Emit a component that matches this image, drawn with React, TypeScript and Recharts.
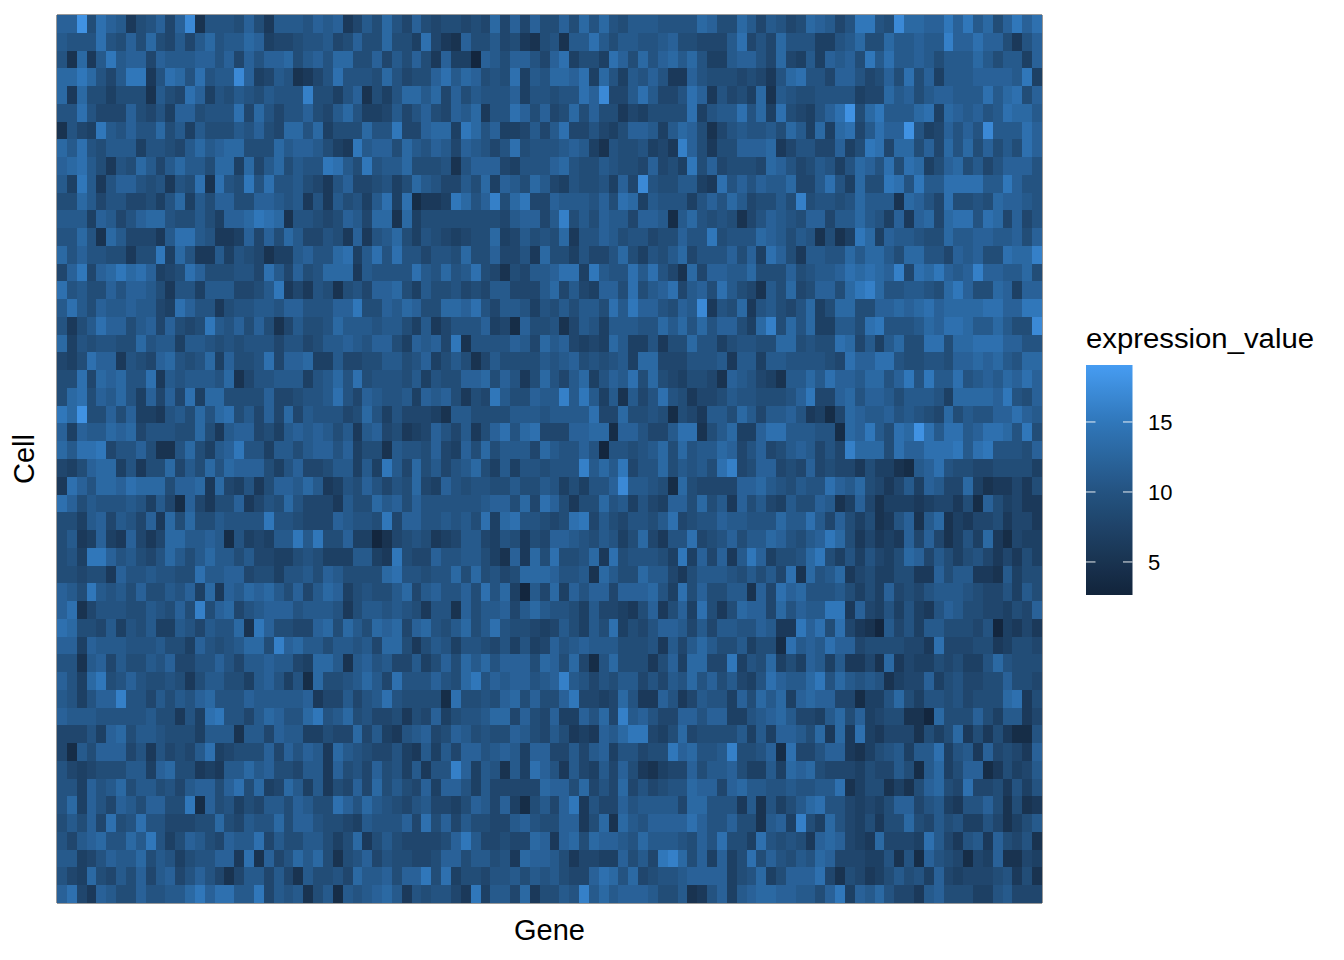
import React from 'react';
import { ScatterChart, Scatter, XAxis, YAxis, ReferenceArea } from 'recharts';

// expression values, top row first, one entry per gene
const row00 = [12,12,18,9,14,12,11,6,9,10,12,8,12,17,5,10,10,10,9,12,9,6,11,11,11, 10,12,11,12,6,8,11,9,13,10,8,12,9,8,9,9,8,9,8,13,8,12,8,12,9, 9,12,9,13,10,13,10,9,11,11,11,10,10,10,10,13,12,9,9,13,11,8,11,10,8, 9,13,12,11,8,10,15,15,10,9,17,13,13,12,12,15,12,15,11,13,9,12,15,12,14];
const row01 = [11,10,10,10,14,10,9,12,9,13,9,8,11,8,11,13,10,11,11,13,12,7,8,8,9, 10,10,11,8,9,12,9,9,13,9,9,7,14,8,6,5,12,9,9,11,8,9,6,5,9, 10,5,11,11,14,11,9,11,11,10,10,11,12,9,9,8,8,8,11,14,8,10,8,13,10, 10,10,7,7,10,11,13,9,9,13,11,11,12,11,11,16,12,12,14,12,12,9,6,10,12];
const row02 = [10,5,13,6,11,15,11,12,12,8,12,11,11,11,12,12,10,12,8,12,10,12,12,13,9, 11,12,10,13,13,9,9,12,8,11,9,12,9,6,12,7,7,3,12,11,9,12,12,10,8, 12,14,7,9,9,7,14,12,9,13,10,12,13,11,13,10,7,7,11,12,12,10,8,13,8, 7,11,7,12,11,12,9,15,11,14,11,11,12,11,9,11,11,11,13,11,9,11,11,7,12];
const row03 = [13,13,15,13,10,8,11,15,15,6,10,14,13,10,14,10,11,11,17,12,7,8,11,10,5, 6,8,10,14,10,10,10,9,13,10,8,9,9,12,14,11,13,12,9,10,9,14,7,11,10, 13,13,12,14,7,13,10,7,11,10,12,10,6,6,12,10,9,9,9,8,9,8,6,10,13, 14,10,10,8,12,12,10,8,9,12,9,14,9,12,7,11,11,11,12,12,12,12,11,15,7];
const row04 = [13,6,13,9,9,7,9,9,9,5,11,9,8,14,12,7,10,9,11,10,9,11,10,10,10, 16,9,9,7,10,12,5,9,7,10,13,13,11,13,8,12,9,11,10,10,10,12,7,10,10, 9,10,10,14,12,17,8,8,11,14,11,8,8,10,14,12,6,10,8,9,7,13,5,11,10, 9,9,10,10,10,10,7,8,8,13,11,12,9,11,12,12,11,11,11,14,11,13,14,9,12];
const row05 = [10,10,14,10,8,8,8,12,9,8,10,7,12,12,9,10,10,10,14,8,13,10,8,10,10, 12,9,8,11,13,10,7,7,8,11,8,10,12,9,8,12,11,13,6,10,10,14,12,9,12, 8,9,13,9,12,9,9,6,8,7,9,9,9,9,14,7,10,11,11,14,10,13,7,14,9, 8,7,10,12,14,18,9,13,15,11,11,11,13,14,7,13,12,11,12,10,11,14,13,13,11];
const row06 = [5,10,8,7,15,11,10,12,10,10,13,9,11,7,11,9,9,9,11,10,12,9,8,13,13, 10,13,7,9,9,9,13,10,10,15,8,8,12,13,13,7,15,13,10,12,7,7,8,11,8, 11,14,8,8,10,8,7,9,12,12,11,7,11,13,12,9,5,8,10,11,10,10,11,9,13, 11,7,13,7,13,14,8,11,14,12,12,18,10,7,8,12,10,12,10,17,11,11,11,14,12];
const row07 = [13,11,14,10,9,11,11,11,7,10,10,9,8,11,13,11,12,13,13,9,9,9,13,11,12, 12,11,9,7,6,15,11,12,12,9,13,11,10,12,11,8,12,11,10,8,10,14,9,10,10, 10,11,12,11,7,5,10,9,9,10,7,8,6,16,12,9,6,9,9,12,12,12,13,6,8, 10,10,8,8,12,7,9,15,14,8,13,13,9,12,8,13,10,13,9,12,9,11,9,14,12];
const row08 = [12,13,14,11,9,6,10,9,13,11,8,11,13,11,11,9,13,13,7,13,8,11,13,9,11, 10,10,15,14,11,9,15,10,11,11,13,9,9,9,10,5,10,12,12,12,8,7,10,10,10, 12,13,10,9,9,11,10,9,9,8,12,8,9,7,15,9,12,8,9,9,9,8,13,12,10, 8,9,11,10,7,10,13,12,10,14,9,14,13,7,9,12,13,9,11,8,10,12,12,12,10];
const row09 = [11,7,15,11,6,10,12,12,10,9,10,6,10,9,14,5,14,10,9,15,10,14,10,10,11, 9,8,6,10,12,8,8,9,10,7,9,13,11,10,8,8,11,9,13,7,12,11,9,13,11, 8,7,10,9,9,10,7,12,8,17,10,9,9,11,11,7,6,14,10,12,10,12,11,11,13, 8,8,11,14,10,7,13,9,9,15,14,10,15,11,11,14,14,14,14,11,11,15,12,10,10];
const row10 = [9,9,13,11,8,10,10,8,8,9,7,10,13,7,11,9,12,12,9,9,12,12,11,10,11, 6,10,6,11,9,10,7,11,14,7,14,4,6,6,7,15,13,10,12,16,9,13,15,8,8, 12,11,11,11,10,12,9,14,13,7,11,10,10,10,7,10,12,10,13,11,8,9,9,11,9, 16,9,10,10,9,10,13,11,11,11,5,13,12,10,8,14,9,9,10,9,13,12,12,11,10];
const row11 = [11,11,11,7,12,11,8,10,12,13,13,10,9,9,11,9,7,12,12,13,15,14,13,5,10, 10,9,8,9,12,11,8,13,13,5,13,7,9,9,9,9,9,9,9,9,8,11,12,12,8, 11,16,9,11,9,12,11,11,8,12,12,11,4,11,13,10,9,10,9,5,8,10,12,11,10, 9,12,12,8,11,11,13,11,10,7,12,6,12,13,8,13,14,14,10,14,13,8,12,8,10];
const row12 = [10,10,13,10,5,13,11,8,8,8,6,11,14,14,11,10,6,6,7,12,8,12,9,13,11, 8,8,10,9,6,12,6,10,11,13,9,7,10,9,8,7,8,9,9,13,7,8,11,9,10, 9,13,6,10,10,12,11,9,10,10,8,9,9,12,10,10,15,9,10,10,10,13,12,11,9, 11,10,5,9,5,7,15,13,7,12,11,11,10,9,9,13,11,11,12,12,11,11,12,9,12];
const row13 = [13,10,12,10,10,9,9,6,9,9,15,7,13,10,6,6,11,7,10,9,8,5,7,7,11, 12,10,10,13,14,7,11,14,10,14,10,10,8,10,10,9,13,9,9,12,8,8,10,6,13, 9,9,7,10,8,8,10,13,9,7,10,9,11,13,8,10,10,10,12,9,12,7,14,12,9, 6,11,11,10,10,13,11,13,13,11,9,13,13,10,10,8,12,11,12,9,9,14,13,13,16];
const row14 = [8,12,15,8,12,13,15,13,14,12,7,8,9,14,12,9,9,9,10,10,8,14,11,8,12, 9,10,13,13,13,6,11,10,10,10,10,14,11,10,13,10,11,14,9,8,5,9,8,11,11, 12,14,14,7,15,11,10,10,14,11,14,10,8,5,13,8,12,12,11,11,13,9,9,9,12, 9,10,11,11,12,14,13,14,13,12,16,8,14,13,15,12,11,12,16,12,12,11,11,13,9];
const row15 = [14,10,11,9,9,12,10,12,12,11,9,6,10,10,7,11,11,11,8,8,9,11,15,6,8, 6,10,9,5,9,10,8,12,12,13,9,7,11,9,9,10,8,9,8,11,11,8,8,8,11, 13,8,11,8,7,12,12,9,14,9,11,12,14,8,11,12,9,14,11,9,8,5,11,9,13, 8,9,12,12,9,13,15,16,13,10,10,11,11,10,9,13,15,12,9,9,13,12,7,12,12];
const row16 = [11,14,11,9,12,11,11,12,11,11,8,7,14,12,10,10,6,9,10,10,11,11,10,12,12, 10,10,10,12,12,15,9,9,12,11,13,12,9,9,13,13,12,14,10,8,11,11,10,7,10, 9,11,9,11,11,9,14,11,15,12,12,10,9,12,11,17,6,10,9,13,6,10,11,9,8, 10,13,7,9,13,13,9,9,12,12,13,12,13,14,12,13,13,13,13,14,14,12,12,15,15];
const row17 = [10,6,9,11,14,12,12,9,11,12,8,12,9,8,9,15,11,10,12,9,12,9,5,8,11, 9,9,10,13,11,11,11,10,11,11,9,7,11,6,8,10,10,10,12,7,8,4,12,9,9, 10,5,8,11,10,7,11,11,11,10,10,13,11,13,10,13,10,12,12,9,7,13,16,9,13, 10,13,7,7,11,11,9,14,15,10,10,10,11,13,12,14,14,13,11,11,13,11,9,9,17];
const row18 = [13,7,10,9,10,10,9,9,13,10,11,11,7,11,11,10,9,10,9,10,10,10,8,10,10, 8,9,11,11,12,11,10,12,12,9,7,12,11,12,8,15,5,10,10,10,10,12,11,8,13, 11,12,8,7,8,7,13,11,7,7,10,6,9,9,13,10,10,7,9,10,10,9,9,13,13, 9,10,9,9,14,13,8,11,7,11,13,9,9,14,14,9,13,13,14,14,14,12,12,10,10];
const row19 = [8,7,9,14,12,12,6,10,9,8,12,13,10,9,10,13,7,12,9,9,10,14,8,12,12, 13,7,7,11,8,8,9,9,11,11,9,10,12,7,9,11,9,5,8,11,9,9,9,9,11, 10,11,12,9,10,9,10,11,7,13,13,8,8,8,10,10,10,11,6,11,11,7,11,11,10, 10,10,10,9,8,14,12,12,14,14,10,9,9,10,10,9,12,12,13,12,13,11,10,13,13];
const row20 = [9,9,14,8,13,12,13,10,10,14,6,11,10,11,11,11,10,13,5,8,10,10,11,11,11, 7,10,11,13,10,14,9,10,10,10,9,11,7,10,9,9,12,12,13,9,12,10,6,9,13, 10,8,11,13,7,10,12,11,14,9,13,9,8,7,9,9,8,5,12,11,10,8,7,5,11, 11,13,11,14,12,12,11,13,13,10,12,15,10,15,11,11,14,10,11,12,11,13,12,14,12];
const row21 = [9,13,14,9,12,11,13,10,7,12,8,12,8,14,7,13,13,9,9,9,9,12,8,8,9, 10,10,11,14,10,8,12,11,10,10,11,7,12,11,12,9,6,9,8,15,11,9,9,12,11, 11,16,11,15,11,7,11,5,11,8,10,14,10,9,6,8,8,9,11,10,10,9,9,9,10, 12,15,8,8,12,13,10,12,12,11,9,11,11,11,10,7,13,13,13,13,12,15,10,9,12];
const row22 = [15,13,18,9,9,12,9,12,7,7,6,10,11,9,13,10,13,14,9,11,8,12,8,13,8, 11,10,10,10,8,9,13,10,7,10,8,8,8,7,5,11,11,9,9,9,9,11,11,11,10, 11,11,11,11,14,8,8,13,9,9,10,9,4,9,8,6,11,11,9,13,11,8,11,11,12, 10,6,7,4,8,13,12,11,11,12,10,11,10,9,8,13,9,11,10,10,12,12,14,12,11];
const row23 = [12,7,12,11,11,13,12,13,8,10,10,10,9,9,13,9,6,11,12,12,8,9,7,11,12, 11,12,11,9,11,6,11,12,8,9,6,7,8,12,10,8,11,6,9,12,14,10,13,14,8, 8,8,12,12,13,13,4,12,12,10,8,8,11,14,14,5,9,11,13,7,7,12,14,14,11, 11,11,10,10,4,13,12,15,11,9,14,13,18,14,11,14,14,11,12,14,14,13,10,15,9];
const row24 = [13,11,14,14,15,8,10,10,12,9,5,5,10,13,9,7,11,12,15,10,10,7,11,11,9, 11,12,12,10,12,7,9,9,5,11,10,10,9,12,8,7,12,9,13,9,11,11,11,8,13, 11,10,10,12,10,3,10,10,9,10,11,13,9,13,10,11,11,13,12,8,10,12,8,9,11, 12,11,8,10,8,16,13,13,13,9,14,12,12,14,14,14,15,11,14,15,10,10,10,9,12];
const row25 = [8,7,9,12,13,13,7,10,6,9,9,13,8,11,9,13,10,13,12,12,12,9,7,10,12, 8,8,9,11,11,7,11,7,15,11,8,13,9,11,8,10,11,13,9,7,11,7,10,10,9, 10,10,10,16,11,13,11,15,8,10,10,13,9,11,10,11,9,14,16,8,9,12,12,8,9, 8,12,8,9,8,8,6,9,7,7,5,4,11,12,14,10,9,9,8,8,9,9,9,9,7];
const row26 = [6,14,12,10,13,13,12,14,13,13,13,9,12,12,13,6,13,8,7,10,6,9,12,12,11, 13,11,6,7,10,9,12,10,8,10,9,13,8,7,12,10,9,10,10,9,9,11,9,9,11, 10,7,9,7,10,10,12,17,11,11,10,9,4,13,9,8,8,8,8,12,12,13,11,10,9, 11,10,10,14,12,11,13,9,8,6,8,11,7,12,11,8,8,13,7,5,6,6,8,6,9];
const row27 = [14,12,9,11,10,10,10,11,10,7,11,8,4,12,8,6,9,9,12,6,8,10,9,13,10, 8,8,8,6,11,9,9,13,11,12,9,12,10,10,10,10,10,10,11,12,12,9,13,8,14, 12,9,6,9,9,13,10,11,7,10,8,7,12,12,9,13,9,11,6,12,9,11,8,7,11, 9,9,12,11,5,7,12,8,5,7,7,7,6,7,8,8,6,9,4,12,9,7,8,6,6];
const row28 = [9,9,7,11,12,8,11,10,8,12,6,13,9,13,9,9,11,10,10,10,10,15,10,10,9, 8,8,8,12,11,10,10,9,15,8,12,12,10,10,11,10,11,9,14,7,13,14,10,10,9, 8,9,14,15,8,11,9,8,10,10,9,11,14,8,9,10,10,12,11,11,10,10,10,13,11, 11,14,11,8,12,9,7,9,5,6,10,12,5,11,13,5,7,6,8,8,9,6,8,8,6];
const row29 = [9,11,6,7,12,7,6,12,8,6,8,13,13,11,11,12,11,4,10,7,8,7,11,11,15, 11,15,9,9,12,7,7,3,5,8,9,10,9,6,7,8,11,11,8,7,10,9,6,9,8, 12,12,11,10,9,11,10,7,9,13,8,6,10,10,14,8,9,10,12,9,11,11,13,12,10, 9,11,12,15,13,9,6,8,6,7,6,12,8,12,8,5,7,10,7,13,6,4,8,7,7];
const row30 = [9,10,7,15,15,12,10,11,9,8,10,13,11,9,11,13,11,11,9,11,8,8,7,7,9, 10,9,7,7,7,11,11,7,6,15,9,8,8,12,10,10,11,11,9,7,5,12,6,13,9, 14,9,9,10,13,6,14,9,10,10,10,9,7,15,7,12,8,12,6,11,15,12,7,9,9, 10,13,15,9,7,10,7,10,8,7,9,13,12,8,11,9,7,9,10,8,6,8,6,9,7];
const row31 = [9,9,8,9,9,6,12,10,10,11,10,10,9,9,14,11,11,12,12,8,9,9,7,10,10, 11,9,12,11,9,9,9,9,13,14,10,10,9,10,10,13,9,13,9,10,8,9,13,13,13, 12,10,10,11,5,13,11,9,9,13,11,11,8,6,9,11,11,11,10,9,11,9,11,8,14, 5,13,10,11,13,6,8,9,7,7,9,9,6,6,12,9,11,11,6,6,5,11,7,9,9];
const row32 = [12,11,9,15,11,10,11,9,12,9,9,11,10,12,7,13,6,12,11,13,12,13,11,9,12, 8,11,13,12,7,9,10,9,9,11,13,8,11,12,10,10,12,9,14,10,13,7,3,11,8, 13,7,12,10,12,12,8,12,12,12,13,10,7,14,9,12,9,9,11,11,5,12,8,14,12, 13,10,10,10,11,9,7,9,7,12,8,9,8,10,11,11,11,10,9,8,8,10,7,11,9];
const row33 = [12,14,5,8,10,10,10,9,9,11,10,9,12,9,16,9,12,13,8,10,11,12,12,12,10, 11,11,11,10,6,9,11,11,10,11,10,9,6,10,10,5,12,9,11,11,12,8,11,13,11, 10,10,9,7,11,8,8,7,6,9,12,6,9,12,7,14,9,6,9,13,12,12,8,13,10, 12,11,11,15,15,6,12,8,7,10,7,10,7,6,10,12,11,9,9,8,8,7,9,8,12];
const row34 = [14,13,9,9,8,11,7,10,9,11,7,7,11,10,8,11,10,10,13,5,15,12,9,9,8, 8,12,13,9,13,11,9,13,12,13,8,12,13,10,9,11,13,9,11,14,10,9,9,8,7, 8,11,9,7,11,9,14,7,9,8,10,12,12,11,8,11,8,11,11,10,10,12,11,6,6, 15,12,14,9,14,8,6,5,3,11,8,10,7,11,11,9,9,9,8,10,3,7,6,8,6];
const row35 = [12,12,7,12,11,11,11,10,10,10,11,9,9,7,12,10,9,10,11,13,13,9,16,12,13, 11,11,9,11,11,10,11,8,13,13,9,6,9,11,10,7,10,10,9,8,10,7,10,7,8, 12,10,11,12,11,11,11,9,9,9,10,6,11,8,11,13,11,9,9,11,7,9,9,4,14, 11,12,11,14,12,12,8,9,9,9,9,8,8,6,14,8,8,8,9,9,6,7,9,9,8];
const row36 = [10,10,5,11,12,8,11,9,9,11,10,12,8,8,10,10,12,10,8,11,11,12,11,11,8, 7,13,13,11,5,11,12,10,11,8,8,11,7,9,12,9,13,11,13,10,12,12,12,9,13, 12,9,13,8,4,10,13,9,9,9,6,9,12,7,13,13,8,8,15,7,10,9,13,7,9, 7,12,11,7,11,6,6,8,5,13,6,8,7,7,9,8,9,7,7,10,13,10,9,9,9];
const row37 = [12,10,7,13,15,9,10,12,10,9,9,10,9,6,9,11,11,9,9,7,11,12,10,7,10, 4,13,9,9,10,11,13,11,8,14,10,10,10,12,10,9,13,15,10,12,11,12,12,10,11, 12,16,11,10,8,10,9,11,11,8,10,8,11,10,13,10,12,9,11,8,7,10,14,12,11, 11,13,15,10,13,11,10,11,10,5,7,8,8,12,7,9,10,8,8,9,9,12,9,9,8];
const row38 = [11,10,7,10,12,12,16,10,10,8,11,9,11,10,12,13,10,10,10,12,11,11,11,11,11, 12,6,8,8,11,8,10,11,14,10,9,9,9,9,4,14,9,9,10,9,12,13,9,12,9, 9,12,15,8,8,7,8,13,10,6,6,12,10,6,8,11,10,10,7,12,9,13,11,13,7, 12,13,12,12,8,8,4,7,7,10,13,9,7,10,10,9,10,8,9,9,9,13,14,6,9];
const row39 = [12,11,11,11,10,10,10,10,10,11,9,9,6,10,7,14,15,10,10,8,11,13,12,10,10, 13,15,10,11,13,9,10,8,8,9,6,9,8,12,7,9,10,10,11,13,13,8,12,9,8, 12,7,7,12,10,13,8,16,11,12,10,8,8,12,12,10,12,12,7,7,10,11,12,13,11, 8,8,7,11,13,9,12,7,8,9,9,5,5,3,13,9,9,9,12,9,7,11,11,6,8];
const row40 = [8,8,8,10,7,12,13,9,11,11,10,9,9,9,7,11,11,11,5,11,11,8,12,11,11, 7,7,9,8,8,13,8,11,7,6,10,11,12,8,9,12,11,9,10,9,9,12,11,9,8, 11,9,6,7,6,12,11,13,15,15,8,7,9,13,8,9,9,9,9,11,7,11,7,12,12, 11,9,13,6,13,6,14,7,6,8,8,8,5,9,7,9,13,6,9,6,9,6,4,4,10];
const row41 = [8,4,11,9,12,12,12,8,10,6,10,8,9,8,11,14,7,8,9,9,9,12,8,12,10, 12,11,6,13,11,10,9,8,8,10,7,6,11,7,11,8,12,12,10,11,12,11,7,12,12, 8,8,11,8,11,12,7,10,10,8,9,9,15,12,13,10,10,11,16,9,9,10,12,4,14, 8,8,10,12,12,6,5,7,9,10,11,7,11,11,14,7,10,11,6,12,8,9,8,6,12];
const row42 = [10,8,7,8,9,9,9,11,11,7,12,13,9,9,6,7,6,11,11,13,11,12,9,9,8, 11,11,6,12,9,10,8,12,9,10,7,11,6,10,10,16,12,7,11,10,5,11,7,14,12, 10,6,11,8,7,11,8,12,9,6,5,7,8,8,12,9,11,11,12,9,7,7,11,7,13, 12,13,9,8,8,8,7,9,8,8,11,9,4,11,13,7,9,12,12,4,6,9,7,8,11];
const row43 = [10,10,7,12,10,11,13,9,11,11,9,10,8,11,12,12,9,12,14,9,13,7,8,13,11, 7,11,6,9,8,12,8,13,9,11,9,8,12,7,12,12,10,7,11,8,8,8,8,8,13, 12,12,9,13,8,10,8,13,8,10,8,9,10,10,13,12,12,8,12,13,11,11,10,10,11, 10,10,11,11,14,5,7,9,9,5,7,5,9,12,13,9,8,14,8,8,9,6,10,7,10];
const row44 = [10,13,7,12,10,8,12,11,9,12,12,9,9,15,4,12,9,10,7,9,8,11,11,9,12, 11,9,9,14,12,10,13,11,10,9,8,10,11,8,8,7,9,12,11,8,12,7,4,9,11, 8,12,15,6,10,8,8,12,10,11,11,11,11,8,13,13,10,10,10,6,11,5,10,7,9, 11,13,14,10,10,8,7,8,7,9,12,12,8,10,11,7,6,10,10,12,9,5,9,5,6];
const row45 = [9,11,9,12,8,14,9,10,14,10,10,8,8,8,9,9,13,9,8,11,10,10,13,9,12, 12,10,9,9,8,7,11,10,10,10,12,8,14,9,12,8,11,9,9,8,8,11,12,10,9, 9,12,12,6,9,13,5,13,11,10,12,12,12,12,14,12,10,10,12,9,9,5,11,12,7, 16,9,7,13,10,8,7,9,6,9,9,13,9,8,11,9,10,7,7,10,8,5,7,9,11];
const row46 = [10,8,11,12,13,10,10,13,11,15,10,7,9,12,11,9,8,12,11,11,14,8,11,9,9, 11,11,9,7,9,13,6,9,11,9,8,8,8,8,9,12,15,11,8,8,9,8,8,13,12, 6,12,13,9,13,12,12,11,10,13,11,11,11,10,9,12,10,14,9,9,7,14,10,9,10, 9,6,12,13,12,8,7,6,13,8,8,8,7,14,11,8,6,10,11,6,12,9,8,10,5];
const row47 = [11,11,7,8,10,12,11,11,13,9,11,10,7,9,10,10,12,12,6,14,5,12,8,10,13, 11,13,9,5,9,10,12,8,10,9,9,8,8,9,12,12,9,11,11,9,10,6,13,12,12, 11,9,6,8,8,7,7,12,9,11,8,15,16,13,9,12,7,12,7,9,14,9,12,10,9, 11,10,13,12,8,8,8,7,7,10,5,10,4,12,10,9,8,4,8,7,12,5,5,8,7];
const row48 = [10,8,7,13,9,8,11,9,12,8,11,12,8,10,12,10,8,5,8,11,11,8,11,8,5, 11,9,9,10,8,13,11,11,12,9,12,12,15,9,14,7,9,9,8,10,10,11,9,11,10, 11,9,8,8,12,14,13,10,13,8,9,10,10,11,12,12,12,12,7,9,10,13,7,9,12, 12,12,14,8,5,9,8,6,7,9,11,9,10,7,12,8,7,8,8,8,9,10,6,9,5];
const row49 = [12,14,8,6,12,11,9,9,12,10,10,11,11,13,15,12,14,14,11,11,15,8,11,10,11, 5,9,11,4,11,10,11,12,13,11,6,10,9,10,10,8,6,15,7,11,11,8,13,6,9, 9,11,10,16,11,13,11,12,12,12,11,9,9,11,5,6,10,12,7,11,12,13,13,12,12, 11,11,9,12,15,7,12,11,13,10,8,8,6,11,12,9,9,9,7,7,10,11,8,8,8];

const rows = [
  row00, row01, row02, row03, row04, row05, row06, row07, row08, row09,
  row10, row11, row12, row13, row14, row15, row16, row17, row18, row19,
  row20, row21, row22, row23, row24, row25, row26, row27, row28, row29,
  row30, row31, row32, row33, row34, row35, row36, row37, row38, row39,
  row40, row41, row42, row43, row44, row45, row46, row47, row48, row49
];

const legendTicks = [15, 10, 5];
const legendMin = 2.64;
const legendMax = 19.07;

// colour ramp as it shows up in the colour bar
const rampValues = [2.64, 5, 10, 15, 19.07];
const rampColors = [[18, 36, 59], [25, 51, 80], [36, 83, 129], [48, 119, 186], [70, 156, 242]];

const colorFor = (v: number) => {
  let i = 0;
  while (i < rampValues.length - 2 && v > rampValues[i + 1]) i++;
  const t = Math.max(0, Math.min(1, (v - rampValues[i]) / (rampValues[i + 1] - rampValues[i])));
  const c = rampColors[i].map((a, k) => Math.round(a + (rampColors[i + 1][k] - a) * t));
  return `rgb(${c[0]},${c[1]},${c[2]})`;
};

const plotLeft = 57;
const plotTop = 15;
const plotWidth = 985;
const plotHeight = 888;
const cellW = plotWidth / 100;
const cellH = plotHeight / 50;

const cells = rows.flatMap((row, r) =>
  row.map((value, g) => ({ gene: g + 0.5, cell: r + 0.5, value }))
);

const Tile = (props: any) => (
  <rect
    x={props.cx - cellW / 2}
    y={props.cy - cellH / 2}
    width={cellW}
    height={cellH}
    fill={colorFor(props.payload.value)}
    shapeRendering="crispEdges"
  />
);

const font = '"Liberation Sans", Arial, sans-serif';

const barTop = 365;
const barHeight = 230;
const yForLegend = (v: number) => barTop + ((legendMax - v) / (legendMax - legendMin)) * barHeight;

const ColorBar = () => {
  const steps = Array.from({ length: 21 }, (_, i) => legendMin + ((legendMax - legendMin) * i) / 20);
  return (
    <svg width={1344} height={960} style={{ position: 'absolute', left: 0, top: 0, pointerEvents: 'none' }}>
      <defs>
        <linearGradient id="bar" x1="0" y1="1" x2="0" y2="0">
          {steps.map((s, i) => (
            <stop key={i} offset={`${i * 5}%`} stopColor={colorFor(s)} />
          ))}
        </linearGradient>
      </defs>
      <text x={1086} y={348} fontFamily={font} fontSize={27} fill="#000" textLength={228} lengthAdjust="spacingAndGlyphs">
        expression_value
      </text>
      <rect x={1086} y={barTop} width={46.5} height={barHeight} fill="url(#bar)" />
      {legendTicks.map((t) => (
        <g key={t}>
          <line x1={1086} x2={1095.5} y1={yForLegend(t)} y2={yForLegend(t)} stroke="#fff" strokeOpacity={0.9} />
          <line x1={1123} x2={1132.5} y1={yForLegend(t)} y2={yForLegend(t)} stroke="#fff" strokeOpacity={0.9} />
          <text x={1148} y={yForLegend(t) + 8} fontFamily={font} fontSize={22} fill="#000">
            {t}
          </text>
        </g>
      ))}
      <text x={549.5} y={940} textAnchor="middle" fontFamily={font} fontSize={29} fill="#000">Gene</text>
      <text transform="translate(34,459) rotate(-90)" textAnchor="middle" fontFamily={font} fontSize={29} fill="#000">Cell</text>
    </svg>
  );
};

export default function App() {
  return (
    <div style={{ position: 'absolute', left: 0, top: 0, width: 1344, height: 960, background: '#fff' }}>
      <ScatterChart
        width={1344}
        height={960}
        margin={{ top: plotTop, left: plotLeft, right: 1344 - plotLeft - plotWidth, bottom: 960 - plotTop - plotHeight }}
      >
        <XAxis type="number" dataKey="gene" domain={[0, 100]} hide />
        <YAxis type="number" dataKey="cell" domain={[0, 50]} reversed hide />
        <Scatter data={cells} shape={<Tile />} isAnimationActive={false} />
        <ReferenceArea x1={0} x2={100} y1={0} y2={50} fill="none" stroke="#333333" strokeWidth={1} ifOverflow="visible" />
      </ScatterChart>
      <ColorBar />
    </div>
  );
}
